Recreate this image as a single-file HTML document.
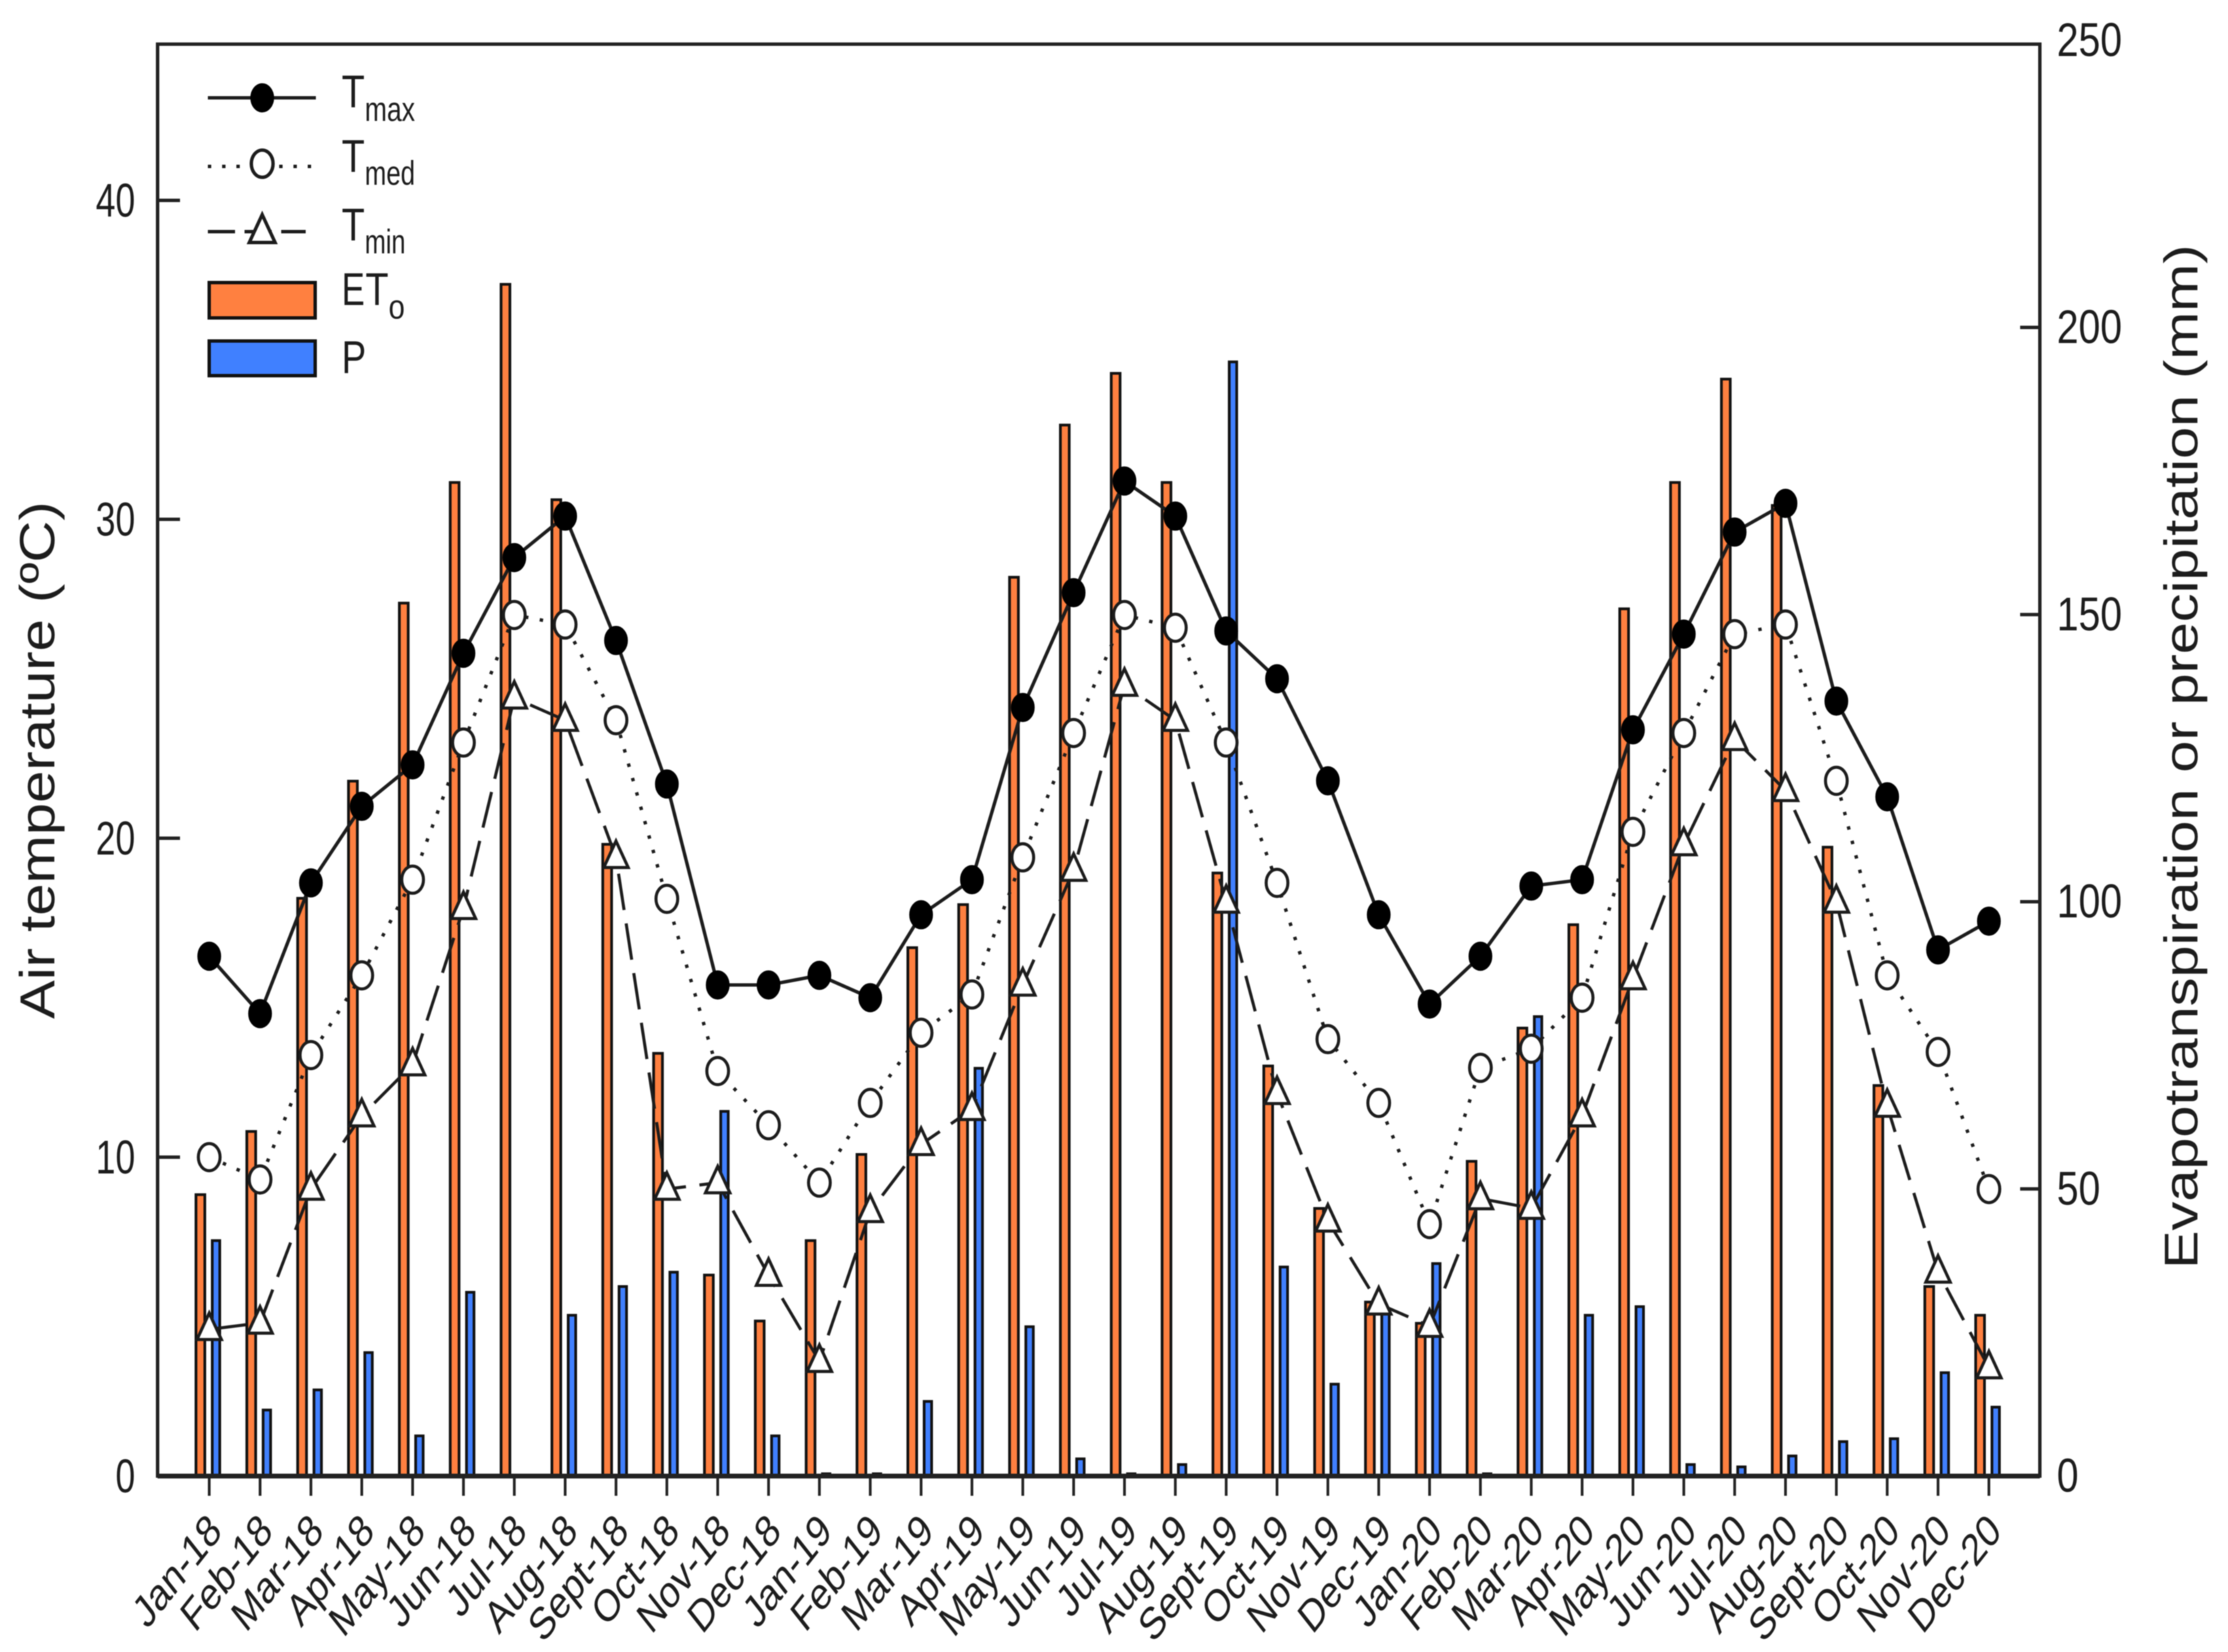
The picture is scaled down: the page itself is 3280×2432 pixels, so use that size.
<!DOCTYPE html>
<html lang="en">
<head>
<meta charset="utf-8">
<title>Air temperature, evapotranspiration and precipitation</title>
<style>
html,body{margin:0;padding:0;background:#fff}
svg{display:block;filter:blur(0.8px)}
text{font-family:"Liberation Sans",Arial,sans-serif;fill:#1c1c1c}
</style>
</head>
<body>
<svg id="chart" width="3280" height="2432" viewBox="0 0 3280 2432" xmlns="http://www.w3.org/2000/svg">
<rect x="0" y="0" width="3280" height="2432" fill="#fff"/>
<g id="bars"></g>
<g id="lines"></g>
<g id="axes"></g>
<text transform="translate(80,1500) rotate(-90)" font-size="72" textLength="762" lengthAdjust="spacingAndGlyphs">Air temperature (ºC)</text>
<text transform="translate(3235,1868) rotate(-90)" font-size="70" textLength="1508" lengthAdjust="spacingAndGlyphs">Evapotranspiration or precipitation (mm)</text>
<g>
  <g>
    <line x1="306" x2="465" y1="144" y2="144" stroke="#1c1c1c" stroke-width="5"/>
    <ellipse cx="386" cy="144" rx="17" ry="21" fill="#000" stroke="#000" stroke-width="1"/>
    <text x="503" y="158" font-size="68" textLength="34" lengthAdjust="spacingAndGlyphs">T</text>
    <text x="537" y="178" font-size="50" textLength="74" lengthAdjust="spacingAndGlyphs">max</text>
  </g>
  <g>
    <line x1="306" x2="465" y1="245" y2="245" stroke="#1c1c1c" stroke-width="5" stroke-dasharray="5 16"/>
    <ellipse cx="386" cy="241" rx="16" ry="20" fill="#fff" stroke="#1c1c1c" stroke-width="5"/>
    <text x="503" y="253" font-size="68" textLength="34" lengthAdjust="spacingAndGlyphs">T</text>
    <text x="537" y="272" font-size="50" textLength="74" lengthAdjust="spacingAndGlyphs">med</text>
  </g>
  <g>
    <line x1="306" x2="450" y1="341" y2="341" stroke="#1c1c1c" stroke-width="5" stroke-dasharray="40 14"/>
    <polygon points="386,316 405,357 367,357" fill="#fff" stroke="#1c1c1c" stroke-width="5"/>
    <text x="503" y="354" font-size="68" textLength="34" lengthAdjust="spacingAndGlyphs">T</text>
    <text x="537" y="373" font-size="50" textLength="60" lengthAdjust="spacingAndGlyphs">min</text>
  </g>
  <g>
    <rect x="308" y="416" width="156" height="52" fill="#FF8040" stroke="#111" stroke-width="5"/>
    <text x="503" y="449" font-size="68" textLength="34" lengthAdjust="spacingAndGlyphs">E</text>
    <text x="538" y="449" font-size="68" textLength="34" lengthAdjust="spacingAndGlyphs">T</text>
    <text x="572" y="469" font-size="50" textLength="24" lengthAdjust="spacingAndGlyphs">o</text>
  </g>
  <g>
    <rect x="308" y="502" width="156" height="51" fill="#4080FF" stroke="#111" stroke-width="5"/>
    <text x="503" y="549" font-size="68" textLength="36" lengthAdjust="spacingAndGlyphs">P</text>
  </g>
</g>
</svg>
<script>
const months = ["Jan-18","Feb-18","Mar-18","Apr-18","May-18","Jun-18","Jul-18","Aug-18","Sept-18","Oct-18","Nov-18","Dec-18","Jan-19","Feb-19","Mar-19","Apr-19","May-19","Jun-19","Jul-19","Aug-19","Sept-19","Oct-19","Nov-19","Dec-19","Jan-20","Feb-20","Mar-20","Apr-20","May-20","Jun-20","Jul-20","Aug-20","Sept-20","Oct-20","Nov-20","Dec-20"];
const tmax = [16.3,14.5,18.6,21,22.3,25.8,28.8,30.1,26.2,21.7,15.4,15.4,15.7,15,17.6,18.7,24.1,27.7,31.2,30.1,26.5,25,21.8,17.6,14.8,16.3,18.5,18.7,23.4,26.4,29.6,30.5,24.3,21.3,16.5,17.4];
const tmed = [10,9.3,13.2,15.7,18.7,23,27,26.7,23.7,18.1,12.7,11,9.2,11.7,13.9,15.1,19.4,23.3,27,26.6,23,18.6,13.7,11.7,7.9,12.8,13.4,15,20.2,23.3,26.4,26.7,21.8,15.7,13.3,9];
const tmin = [4.6,4.8,9,11.3,12.9,17.8,24.4,23.7,19.4,9,9.2,6.3,3.6,8.3,10.4,11.5,15.4,19,24.8,23.7,18,12,8,5.4,4.7,8.7,8.4,11.3,15.6,19.8,23.1,21.5,18,11.6,6.4,3.4];
const eto = [49,60,100.6,121,152,173,207.5,170,110,73.6,35,27,41,56,92,99.5,156.5,183,192,173,105,71.4,46.6,30.3,26.6,54.8,78,96,151,173,191,169,109.5,68,33,28];
const precip = [41,11.5,15,21.5,7,32,0,28,33,35.5,63.5,7,0.4,0.4,13,71,26,3,0.4,2,194,36.4,16,29,37,0.4,80,28,29.5,2,1.6,3.5,6,6.5,18,12];
const leftTicks = [0,10,20,30,40];
const rightTicks = [0,50,100,150,200,250];

const NS = "http://www.w3.org/2000/svg";
function xPos(i){ return 308 + i * (2928 - 308) / 35; }
function yTemp(v){ return 2173 - v * (2173 - 295) / 40; }
function yWater(v){ return 2173 - v * (2173 - 482) / 200; }
function make(tag, attrs, parent){
  const el = document.createElementNS(NS, tag);
  for (const k in attrs) el.setAttribute(k, attrs[k]);
  parent.appendChild(el);
  return el;
}
const barsLayer = document.getElementById("bars");
const linesLayer = document.getElementById("lines");
const axesLayer = document.getElementById("axes");

months.forEach(function(m, i){
  const c = xPos(i);
  const o = make("rect", {x:c-19.5, y:yWater(eto[i]), width:13, height:2173-yWater(eto[i]), fill:"#FF8040", stroke:"#111", "stroke-width":4}, barsLayer);
  
  
  const p = make("rect", {x:c+4.5, y:yWater(precip[i]), width:11, height:2173-yWater(precip[i]), fill:"#4080FF", stroke:"#111", "stroke-width":4}, barsLayer);
  
  
});

function pathFor(values){
  return values.map(function(v, i){ return (i ? "L" : "M") + xPos(i).toFixed(1) + " " + yTemp(v).toFixed(1); }).join(" ");
}
const tminLine = make("path", {d:pathFor(tmin), fill:"none", stroke:"#1c1c1c", "stroke-width":4.5, "stroke-dasharray":"54 20"}, linesLayer);


const tmedLine = make("path", {d:pathFor(tmed), fill:"none", stroke:"#1c1c1c", "stroke-width":5, "stroke-dasharray":"5 17"}, linesLayer);


const tmaxLine = make("path", {d:pathFor(tmax), fill:"none", stroke:"#1c1c1c", "stroke-width":5}, linesLayer);



tmin.forEach(function(v, i){
  const x = xPos(i), y = yTemp(v);
  const pts = [x, y-24, x+18, y+15, x-18, y+15].join(",");
  const t = make("polygon", {points:pts, fill:"#fff", stroke:"#1c1c1c", "stroke-width":4.5}, linesLayer);
  
  
});
tmed.forEach(function(v, i){
  const c = make("ellipse", {cx:xPos(i), cy:yTemp(v), rx:16, ry:20, fill:"#fff", stroke:"#1c1c1c", "stroke-width":4.5}, linesLayer);
  
  
});
tmax.forEach(function(v, i){
  const c = make("ellipse", {cx:xPos(i), cy:yTemp(v), rx:17, ry:21, fill:"#000", stroke:"#000", "stroke-width":1}, linesLayer);
  
  
});

const frame = make("rect", {x:232, y:65, width:2771, height:2108, fill:"none", stroke:"#222", "stroke-width":5}, axesLayer);


const baseLine = make("line", {x1:232, x2:3003, y1:2173, y2:2173, stroke:"#222", "stroke-width":7}, axesLayer);



leftTicks.forEach(function(v){
  const y = yTemp(v);
  if (v > 0) {
    const tk = make("line", {x1:232, x2:265, y1:y, y2:y, stroke:"#222", "stroke-width":5}, axesLayer);
    
    
  }
  const s = String(v);
  const lb = make("text", {x:199, y:y+24, "font-size":70, "text-anchor":"end", textLength:s.length*29, lengthAdjust:"spacingAndGlyphs"}, axesLayer);
  lb.textContent = s;
  
  
});
rightTicks.forEach(function(v){
  const y = yWater(v);
  if (v > 0 && v < 250) {
    const tk = make("line", {x1:2974, x2:3003, y1:y, y2:y, stroke:"#222", "stroke-width":5}, axesLayer);
    
    
  }
  const s = String(v);
  const lb = make("text", {x:3028, y:y+23, "font-size":70, textLength:s.length*32, lengthAdjust:"spacingAndGlyphs"}, axesLayer);
  lb.textContent = s;
  
  
});
months.forEach(function(m, i){
  const x = xPos(i);
  const tk = make("line", {x1:x, x2:x, y1:2173, y2:2202, stroke:"#222", "stroke-width":4}, axesLayer);
  
  
  const lb = make("text", {transform:"translate(" + (x+21).toFixed(1) + ",2257) scale(1,1.27) rotate(-45)", "font-size":52, "text-anchor":"end"}, axesLayer);
  lb.textContent = m;
  
  
});
</script>
</body>
</html>
